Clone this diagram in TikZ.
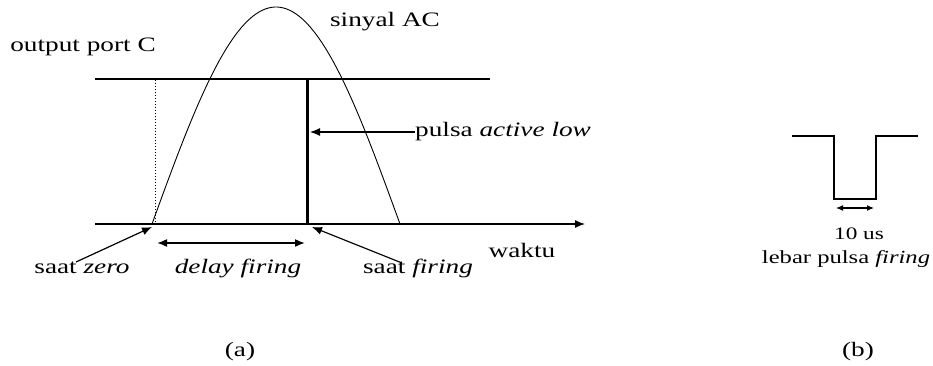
\documentclass[tikz,border=0pt]{standalone}
\usepackage{fontspec}
\setmainfont{Liberation Serif}[FakeStretch=1.33]
\usetikzlibrary{arrows.meta}
\begin{document}
\begin{tikzpicture}[x=1pt,y=-1pt,
  lbl/.style={inner sep=0pt,font=\fontsize{20.5}{24}\selectfont},
  tip/.style={-{Latex[length=10pt,width=8pt]}},
  dtip/.style={{Latex[length=10pt,width=8pt]}-{Latex[length=10pt,width=8pt]}},
  thinl/.style={line width=1.2pt}]
\useasboundingbox (0,0) rectangle (933,366);
% part (a)
\coordinate (topL) at (95,79);
\coordinate (topR) at (490,79);
\coordinate (axL) at (95,224);
\coordinate (axR) at (585,224);
\coordinate (zeroTop) at (155,80);
\coordinate (zeroBot) at (155,224);
\coordinate (fireTop) at (307,79);
\coordinate (fireBot) at (307,224);
\draw[thinl] (topL) -- (topR);
\draw[thinl,tip] (axL) -- (axR);
\draw[line width=1pt,dotted] (zeroTop) -- (zeroBot);
\draw[line width=3pt] (fireTop) -- (fireBot);
\draw[line width=0.9pt] plot[domain=0:180,samples=80,smooth] ({152+1.3778*\x},{224-217*sin(\x)});
\node[lbl] (port) at (83,47) {output port C};
\node[lbl] (ac) at (385,22) {sinyal AC};
\node[lbl,anchor=west] (pulsa) at (415,132) {pulsa \textit{active low}};
\coordinate (pulsaTip) at (310,132);
\draw[thinl,tip] (pulsa.west) -- (pulsaTip);
\node[lbl] (waktu) at (522,250) {waktu};
\node[lbl] (szero) at (82,268) {saat \textit{zero}};
\node[lbl] (delay) at (238,268) {\textit{delay firing}};
\node[lbl] (sfire) at (418,268) {saat \textit{firing}};
\coordinate (zeroTail) at (76,262);
\coordinate (zeroTip) at (152,227);
\coordinate (fireTail) at (402,263);
\coordinate (fireTip) at (312,227);
\draw[thinl,tip] (zeroTail) -- (zeroTip);
\draw[thinl,tip] (fireTail) -- (fireTip);
\coordinate (dL) at (157,243);
\coordinate (dR) at (305,243);
\draw[line width=1.6pt,dtip] (dL) -- (dR);
\node[lbl] (capa) at (240,352) {(a)};
% part (b)
\coordinate (p1) at (792,136);
\coordinate (p2) at (834,136);
\coordinate (p3) at (834,199);
\coordinate (p4) at (876,199);
\coordinate (p5) at (876,136);
\coordinate (p6) at (918,136);
\draw[line width=1.6pt] (p1) -- (p2) -- (p3) -- (p4) -- (p5) -- (p6);
\coordinate (wL) at (836,208);
\coordinate (wR) at (874,208);
\draw[line width=1.2pt,{Latex[length=7pt,width=6pt]}-{Latex[length=7pt,width=6pt]}] (wL) -- (wR);
\node[lbl,font=\fontsize{17.5}{20}\selectfont] (us) at (859,234) {10 us};
\node[lbl,font=\fontsize{18.5}{22}\selectfont] (lebar) at (846,259) {lebar pulsa \textit{firing}};
\node[lbl] (capb) at (858,352) {(b)};
\end{tikzpicture}
\end{document}
